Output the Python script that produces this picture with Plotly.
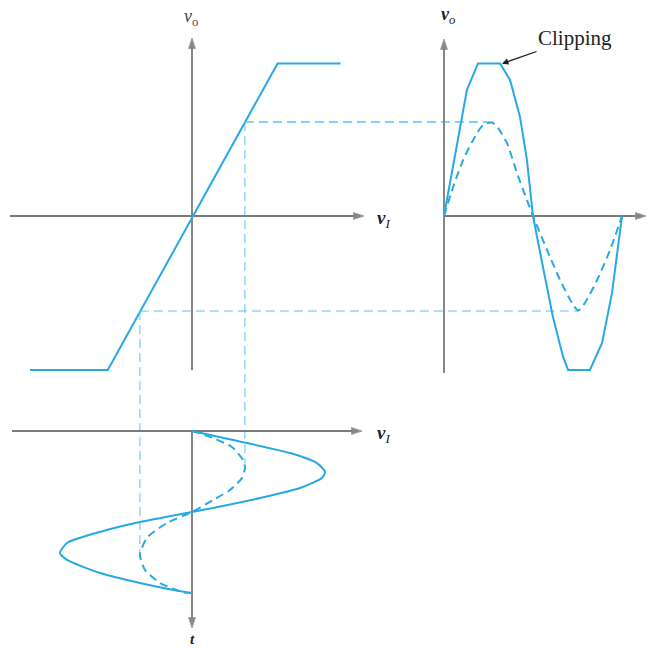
import plotly.graph_objects as go

# ---------------- data ----------------
# transfer characteristic v_o = f(v_I), top-left panel
transfer_vi = [-6.0, -3.12, 3.17, 5.5]
transfer_vo = [-5.7, -5.7, 5.65, 5.65]

# output waveforms (top-right panel), t in periods
out_t_large = [0.0, 0.051, 0.09, 0.129, 0.191, 0.315, 0.371, 0.427, 0.466, 0.5,
               0.556, 0.612, 0.669, 0.697, 0.82, 0.888, 0.944, 1.0]
out_vo_large = [0.0, 1.81, 3.3, 4.67, 5.65, 5.65, 5.04, 3.67, 2.07, 0.0,
                -1.89, -3.74, -5.22, -5.7, -5.7, -4.7, -2.85, 0.0]
out_t_small = [0.0, 0.051, 0.107, 0.163, 0.219, 0.27, 0.303, 0.354, 0.41, 0.466, 0.5,
               0.579, 0.652, 0.719, 0.753, 0.792, 0.86, 0.933, 1.0]
out_vo_small = [0.0, 1.07, 2.07, 2.81, 3.37, 3.46, 3.26, 2.7, 1.59, 0.59, 0.0,
                -1.26, -2.37, -3.22, -3.5, -3.22, -2.37, -1.26, 0.0]

# input waveforms (bottom panel), t in periods (downwards)
in_t_large = [0.0, 0.056, 0.136, 0.198, 0.253, 0.29, 0.352, 0.414, 0.475, 0.5,
              0.562, 0.623, 0.691, 0.753, 0.796, 0.877, 0.938, 0.994, 1.0]
in_vi_large = [0.0, 1.52, 3.63, 4.63, 4.93, 4.81, 4.0, 2.52, 0.78, 0.0,
               -1.93, -3.41, -4.63, -4.89, -4.63, -3.41, -1.93, -0.26, 0.0]
in_t_small = [0.0, 0.043, 0.099, 0.179, 0.228, 0.29, 0.364, 0.426, 0.5,
              0.568, 0.66, 0.765, 0.858, 0.938, 0.994, 1.0]
in_vi_small = [0.0, 0.78, 1.48, 1.89, 1.96, 1.85, 1.41, 0.78, 0.0,
               -0.93, -1.67, -1.93, -1.74, -1.19, -0.37, 0.0]

# projection (construction) points
proj_vi = [1.96, -1.93]
proj_vo = [3.48, -3.52]
proj_t_out = [0.26, 0.753]
proj_t_in = [0.225, 0.765]

# ---------------- scales (layout) ----------------
W, H = 652, 649
VI0, PX_VI = 192, 27.0      # v_I origin (px) and px per unit
VO0, PX_VO = 216, 27.0      # v_o origin (px, from top)
TO0, PX_TO = 444, 178.0     # output time origin, px per period
TI0, PX_TI = 431, 162.0     # input time origin (px, from top)

def tout_to_vi(t):
    return (TO0 + PX_TO * t - VI0) / PX_VI

def tin_to_vo(t):
    return (VO0 - (TI0 + PX_TI * t)) / PX_VO

def px_vi(px):
    return (px - VI0) / PX_VI

def py_vo(py):
    return (VO0 - py) / PX_VO

def px_to(px):
    return (px - TO0) / PX_TO

def py_ti(py):
    return (py - TI0) / PX_TI

BLUE = "#27a9e1"
LIGHT = "#5cc3ee"
AXC = "#7a7a7a"
SERIF = "Liberation Serif, DejaVu Serif, serif"

fig = go.Figure()

# axis lines with arrowheads (drawn first, below the curves)
def axis_line(x0, y0, x1, y1, xa, ya):
    fig.add_trace(go.Scatter(x=[x0, x1], y=[y0, y1], mode="lines+markers",
                             line=dict(color=AXC, width=1.8),
                             marker=dict(symbol=["circle", "arrow"], size=[0, 11],
                                         angleref="previous", color="#555"),
                             xaxis=xa, yaxis=ya, hoverinfo="skip"))

axis_line(0, py_vo(370), 0, py_vo(38), "x", "y")
axis_line(px_vi(10), 0, px_vi(364), 0, "x", "y")
axis_line(0, py_vo(373), 0, py_vo(39), "x2", "y")
axis_line(0, 0, px_to(646), 0, "x2", "y")
axis_line(px_vi(12), 0, px_vi(362), 0, "x", "y3")
axis_line(0, 0, 0, py_ti(628), "x", "y3")

# transfer characteristic
fig.add_trace(go.Scatter(x=transfer_vi, y=transfer_vo, mode="lines",
                         line=dict(color=BLUE, width=2), xaxis="x", yaxis="y"))

# output waveforms
fig.add_trace(go.Scatter(x=out_t_large, y=out_vo_large, mode="lines",
                         line=dict(color=BLUE, width=2), xaxis="x2", yaxis="y"))
fig.add_trace(go.Scatter(x=out_t_small, y=out_vo_small, mode="lines",
                         line=dict(color=BLUE, width=2, dash="8px,5px", shape="spline", smoothing=0.6),
                         xaxis="x2", yaxis="y"))

# input waveforms
fig.add_trace(go.Scatter(x=in_vi_large, y=in_t_large, mode="lines",
                         line=dict(color=BLUE, width=2, shape="spline", smoothing=0.6),
                         xaxis="x", yaxis="y3"))
fig.add_trace(go.Scatter(x=in_vi_small, y=in_t_small, mode="lines",
                         line=dict(color=BLUE, width=2, dash="8px,5px", shape="spline", smoothing=0.6),
                         xaxis="x", yaxis="y3"))

# projection lines
for k in range(2):
    w = 1.5 if k == 0 else 1.0
    fig.add_trace(go.Scatter(x=[proj_vi[k], tout_to_vi(proj_t_out[k])], y=[proj_vo[k], proj_vo[k]],
                             mode="lines", line=dict(color=LIGHT, width=w, dash="9px,5px"),
                             xaxis="x", yaxis="y"))
    fig.add_trace(go.Scatter(x=[proj_vi[k], proj_vi[k]], y=[proj_vo[k], tin_to_vo(proj_t_in[k])],
                             mode="lines", line=dict(color=LIGHT, width=1.0, dash="9px,5px"),
                             xaxis="x", yaxis="y"))

ann = []

# labels
def label(text, x, y, xref, yref, size=16, anchor="center", color="#222"):
    ann.append(dict(x=x, y=y, xref=xref, yref=yref, text=text, showarrow=False,
                    xanchor=anchor, yanchor="middle",
                    font=dict(family=SERIF, size=size, color=color)))

label("<i>v</i><sub>o</sub>", -0.05, py_vo(17), "x", "y", size=18, color="#444")
label("<b><i>v</i></b><sub><i>o</i></sub>", 0.02, py_vo(15), "x2", "y", size=18)
label("<b><i>v</i></b><sub><i>I</i></sub>", px_vi(375), py_vo(219), "x", "y", size=19, anchor="left")
label("<b><i>v</i></b><sub><i>I</i></sub>", px_vi(375), py_ti(434), "x", "y3", size=19, anchor="left")
label("<b><i>t</i></b>", 0, py_ti(639), "x", "y3", size=15)

# Clipping annotation
ann.append(dict(x=px_to(501), y=py_vo(64), xref="x2", yref="y", text="Clipping",
                showarrow=True, ax=74, ay=-26, arrowhead=2, arrowsize=1, arrowwidth=1.3,
                arrowcolor="#222", standoff=1,
                font=dict(family=SERIF, size=21, color="#222")))

hidden = dict(visible=False, showgrid=False, zeroline=False, fixedrange=True)
fig.update_layout(
    width=W, height=H, margin=dict(l=0, r=0, t=0, b=0),
    paper_bgcolor="white", plot_bgcolor="rgba(0,0,0,0)", showlegend=False,
    xaxis=dict(range=[px_vi(0), px_vi(W)], domain=[0, 1], **hidden),
    yaxis=dict(range=[py_vo(H), py_vo(0)], domain=[0, 1], **hidden),
    xaxis2=dict(range=[px_to(0), px_to(W)], overlaying="x", **hidden),
    yaxis3=dict(range=[py_ti(H), py_ti(0)], overlaying="y", **hidden),
    annotations=ann,
)

fig.write_html("out.html", config={"displayModeBar": False},
               post_script="document.body.style.margin='0';document.body.style.overflow='hidden';")
